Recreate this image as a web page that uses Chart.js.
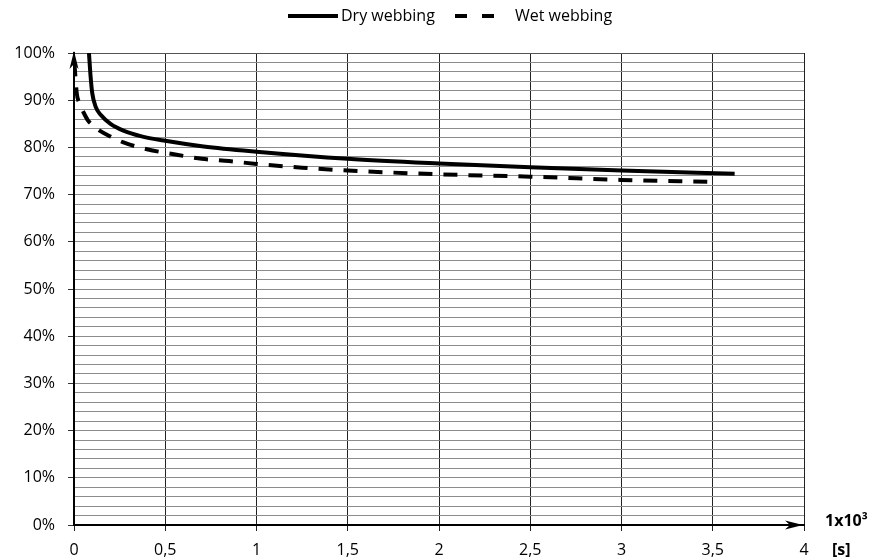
<!DOCTYPE html>
<html><head><meta charset="utf-8">
<script src="https://cdn.jsdelivr.net/npm/chart.js@4/dist/chart.umd.min.js"></script>
<style>html,body{margin:0;padding:0;background:#fff}canvas{display:block}</style>
</head><body>
<canvas id="c" width="875" height="560" style="width:875px;height:560px"></canvas>
<script>
// Time in 1x10^3 s, load retention in %
const dryTime = [0.082, 0.091, 0.1, 0.119, 0.146, 0.2, 0.274, 0.365, 0.5, 0.71, 1.0, 1.5, 2.0, 2.5, 3.0, 3.62];
const dryLoad = [100, 95.0, 91.5, 88.6, 86.9, 85.0, 83.5, 82.4, 81.4, 80.2, 79.1, 77.6, 76.6, 75.8, 75.1, 74.4];
const wetTime = [0.002, 0.015, 0.03, 0.05, 0.075, 0.1, 0.143, 0.2, 0.267, 0.33, 0.4, 0.54, 0.7, 0.85, 1.0, 1.25, 1.5, 2.0, 2.5, 3.0, 3.47];
const wetLoad = [98.0, 91.5, 89.3, 87.6, 85.8, 84.8, 83.5, 82.3, 81.1, 80.3, 79.6, 78.6, 77.6, 77.1, 76.5, 75.7, 75.1, 74.3, 73.8, 73.1, 72.7];
const seriesNames = ['Dry webbing', 'Wet webbing'];
const xMin = 0, xMax = 4, xStep = 0.5;
const yMin = 0, yMax = 100, yMinorStep = 2, yMajorStep = 10;
const xUnitTop = '1x10³', xUnitBottom = '[s]';

const FONT = '"Open Sans", "Liberation Sans", sans-serif';

const toPts = (xs, ys) => xs.map((x, i) => ({x, y: ys[i]}));

const decor = {
  id: 'decor',
  afterDraw(chart) {
    const ctx = chart.ctx;
    const xs = chart.scales.x, ys = chart.scales.y;
    const x0 = xs.getPixelForValue(xMin), xE = xs.getPixelForValue(xMax);
    const y0 = ys.getPixelForValue(yMin), yT = ys.getPixelForValue(yMax);
    ctx.save();
    ctx.fillStyle = '#000';
    // y arrow
    ctx.beginPath();
    ctx.moveTo(x0, yT - 2);
    ctx.lineTo(x0 - 4.5, yT + 16);
    ctx.lineTo(x0, yT + 11);
    ctx.lineTo(x0 + 4.5, yT + 16);
    ctx.closePath();
    ctx.fill();
    // x arrow
    ctx.beginPath();
    ctx.moveTo(xE - 1, y0);
    ctx.lineTo(xE - 19, y0 - 4.5);
    ctx.lineTo(xE - 14, y0);
    ctx.lineTo(xE - 19, y0 + 4.5);
    ctx.closePath();
    ctx.fill();
    // axis unit
    ctx.font = 'bold 16px ' + FONT;
    ctx.textBaseline = 'middle';
    ctx.textAlign = 'left';
    ctx.fillText(xUnitTop, xE + 21, y0 - 4);
    ctx.fillText(xUnitBottom, xE + 28, y0 + 25);
    // legend
    ctx.font = '16px ' + FONT;
    const ly = 16;
    ctx.strokeStyle = '#000';
    ctx.lineWidth = 4;
    ctx.beginPath(); ctx.moveTo(288, ly); ctx.lineTo(338, ly); ctx.stroke();
    ctx.fillText(seriesNames[0], 341, ly);
    ctx.setLineDash([12, 15]);
    ctx.beginPath(); ctx.moveTo(455, ly); ctx.lineTo(495, ly); ctx.stroke();
    ctx.setLineDash([]);
    ctx.fillText(seriesNames[1], 515, ly);
    ctx.restore();
  }
};

new Chart(document.getElementById('c'), {
  type: 'line',
  data: {
    datasets: [
      { label: seriesNames[0], data: toPts(dryTime, dryLoad), borderColor: '#000', borderWidth: 4,
        pointRadius: 0, cubicInterpolationMode: 'monotone', fill: false },
      { label: seriesNames[1], data: toPts(wetTime, wetLoad), borderColor: '#000', borderWidth: 4,
        borderDash: [14, 11], pointRadius: 0, cubicInterpolationMode: 'monotone', fill: false }
    ]
  },
  options: {
    responsive: false,
    animation: false,
    devicePixelRatio: 1,
    layout: { padding: { left: 0, right: 71, top: 53, bottom: 0 } },
    plugins: { legend: { display: false }, tooltip: { enabled: false } },
    scales: {
      x: {
        type: 'linear', min: xMin, max: xMax,
        afterFit: s => { s.height = 35; },
        ticks: { stepSize: xStep, autoSkip: false, padding: 10, color: '#000',
          font: { family: FONT, size: 16 },
          callback: v => String(v).replace('.', ',') },
        grid: { color: '#222', lineWidth: 1, tickLength: 6, tickColor: '#222' },
        border: { color: '#000', width: 2 }
      },
      y: {
        min: yMin, max: yMax,
        afterFit: s => { s.width = 74; },
        ticks: { stepSize: yMinorStep, autoSkip: false, maxTicksLimit: 200, padding: 13, color: '#000',
          font: { family: FONT, size: 16 },
          callback: v => (Math.round(v) % yMajorStep === 0 ? Math.round(v) + '%' : '') },
        grid: {
          lineWidth: 1, tickLength: 6,
          color: c => (c.tick && c.tick.value === yMax ? '#555' : '#8c8c8c'),
          tickColor: c => (c.tick && Math.round(c.tick.value) % yMajorStep === 0 ? '#333' : 'rgba(0,0,0,0)')
        },
        border: { color: '#000', width: 2 }
      }
    }
  },
  plugins: [decor]
});
</script>
</body></html>
